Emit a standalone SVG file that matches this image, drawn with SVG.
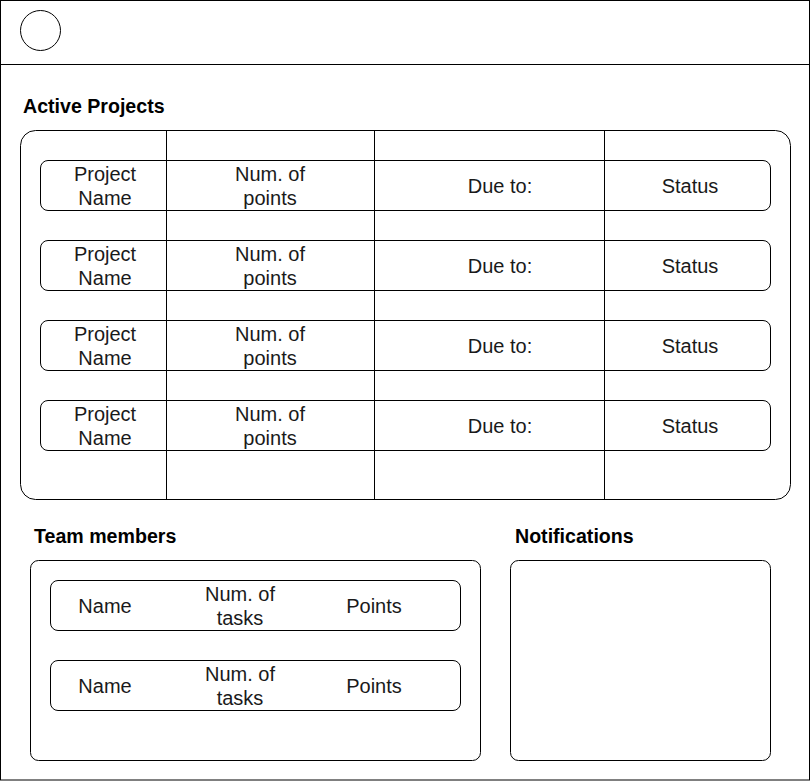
<svg xmlns="http://www.w3.org/2000/svg" width="811" height="781" viewBox="0 0 811 781">
<style>
.s{fill:#fff;stroke:#000;stroke-width:1}
.n{fill:none;stroke:#000;stroke-width:1}
.t{font-family:"Liberation Sans",Arial,sans-serif;font-size:20px;fill:#1a1a1a;text-anchor:middle}
.h{font-family:"Liberation Sans",Arial,sans-serif;font-size:19.6px;font-weight:bold;fill:#000}
</style>
<rect x="0" y="0" width="811" height="781" fill="#fff"/>
<g id="frame">
<rect class="s" x="0.5" y="0.5" width="809" height="779.5"/>
<line class="n" x1="0.5" y1="64.5" x2="809.5" y2="64.5"/>
<circle class="s" cx="40.5" cy="30.5" r="20"/>
</g>
<g id="active-projects">
<text class="h" x="23" y="113">Active Projects</text>
<rect class="s" x="20.5" y="130.5" width="770" height="369" rx="15" ry="15"/>
<rect class="n" x="40.5" y="160.5" width="730" height="50" rx="7.5" ry="7.5"/>
<rect class="n" x="40.5" y="240.5" width="730" height="50" rx="7.5" ry="7.5"/>
<rect class="n" x="40.5" y="320.5" width="730" height="50" rx="7.5" ry="7.5"/>
<rect class="n" x="40.5" y="400.5" width="730" height="50" rx="7.5" ry="7.5"/>
<line class="n" x1="166.5" y1="130.5" x2="166.5" y2="499.5"/>
<line class="n" x1="374.5" y1="130.5" x2="374.5" y2="499.5"/>
<line class="n" x1="604.5" y1="130.5" x2="604.5" y2="499.5"/>
<g class="t">
<text x="105" y="181">Project</text><text x="105" y="205">Name</text>
<text x="270" y="181">Num. of</text><text x="270" y="205">points</text>
<text x="500" y="193">Due to:</text><text x="690" y="193">Status</text>
<text x="105" y="261">Project</text><text x="105" y="285">Name</text>
<text x="270" y="261">Num. of</text><text x="270" y="285">points</text>
<text x="500" y="273">Due to:</text><text x="690" y="273">Status</text>
<text x="105" y="341">Project</text><text x="105" y="365">Name</text>
<text x="270" y="341">Num. of</text><text x="270" y="365">points</text>
<text x="500" y="353">Due to:</text><text x="690" y="353">Status</text>
<text x="105" y="421">Project</text><text x="105" y="445">Name</text>
<text x="270" y="421">Num. of</text><text x="270" y="445">points</text>
<text x="500" y="433">Due to:</text><text x="690" y="433">Status</text>
</g>
</g>
<g id="team-members">
<text class="h" x="34" y="543">Team members</text>
<rect class="s" x="30.5" y="560.5" width="450" height="200" rx="8" ry="8"/>
<rect class="n" x="50.5" y="580.5" width="410" height="50" rx="7.5" ry="7.5"/>
<rect class="n" x="50.5" y="660.5" width="410" height="50" rx="7.5" ry="7.5"/>
<g class="t">
<text x="105" y="613">Name</text>
<text x="240" y="601">Num. of</text><text x="240" y="625">tasks</text>
<text x="374" y="613">Points</text>
<text x="105" y="693">Name</text>
<text x="240" y="681">Num. of</text><text x="240" y="705">tasks</text>
<text x="374" y="693">Points</text>
</g>
</g>
<g id="notifications">
<text class="h" x="515" y="543">Notifications</text>
<rect class="s" x="510.5" y="560.5" width="260" height="200" rx="8" ry="8"/>
</g>
<g id="connectors"></g>
</svg>
